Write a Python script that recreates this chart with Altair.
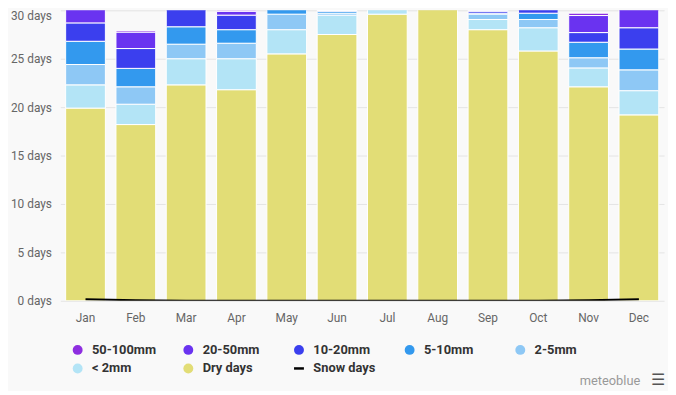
import altair as alt
import pandas as pd

months = ["Jan", "Feb", "Mar", "Apr", "May", "Jun", "Jul", "Aug", "Sep", "Oct", "Nov", "Dec"]

dry_days = [19.9, 18.2, 22.3, 21.8, 25.5, 27.5, 29.6, 30.3, 28.0, 25.8, 22.1, 19.2]
lt_2mm = [2.4, 2.1, 2.7, 3.2, 2.5, 2.0, 1.0, 0.6, 1.05, 2.4, 1.95, 2.5]
mm_2_5 = [2.1, 1.8, 1.5, 1.6, 1.6, 0.2, 0.3, 0.1, 0.55, 0.85, 1.05, 2.15]
mm_5_10 = [2.4, 1.9, 1.8, 1.4, 0.6, 0.2, 0.1, 0.0, 0.1, 0.65, 1.6, 2.15]
mm_10_20 = [1.9, 2.05, 2.0, 1.5, 0.4, 0.1, 0.0, 0.0, 0.2, 0.5, 1.0, 2.2]
mm_20_50 = [2.0, 1.7, 0.6, 0.4, 0.2, 0.0, 0.0, 0.0, 0.1, 0.4, 1.76, 2.3]
mm_50_100 = [0.3, 0.15, 0.1, 0.1, 0.1, 0.0, 0.0, 0.0, 0.0, 0.1, 0.24, 0.5]
snow_days = [0.15, 0.05, 0.0, 0.0, 0.0, 0.0, 0.0, 0.0, 0.0, 0.0, 0.05, 0.15]

categories = ["50-100mm", "20-50mm", "10-20mm", "5-10mm", "2-5mm", "< 2mm", "Dry days", "Snow days"]
colors = ["#8e2ee0", "#6a33f0", "#3b3fee", "#3399ee", "#8ec8f5", "#b3e4f6", "#e2dd76", "#000000"]

series = [
    ("Dry days", dry_days),
    ("< 2mm", lt_2mm),
    ("2-5mm", mm_2_5),
    ("5-10mm", mm_5_10),
    ("10-20mm", mm_10_20),
    ("20-50mm", mm_20_50),
    ("50-100mm", mm_50_100),
]

rows = []
for k, (name, vals) in enumerate(series):
    for m, v in zip(months, vals):
        rows.append({"month": m, "cat": name, "days": v, "order": k})
bars_df = pd.DataFrame(rows)
snow_df = pd.DataFrame({"month": months, "snow": snow_days})

FONT = "Roboto"
IS_SNOW = "datum.label == 'Snow days'"

x_enc = alt.X(
    "month:N",
    sort=months,
    title=None,
    scale=alt.Scale(paddingInner=0.21, paddingOuter=0.105),
    axis=alt.Axis(
        labelAngle=0,
        ticks=False,
        tickSize=0,
        domain=False,
        labelPadding=12,
        labelColor="#666666",
        labelFontSize=12,
        labelFont=FONT,
    ),
)

y_scale = alt.Scale(domain=[0, 30])

color_scale = alt.Scale(domain=categories, range=colors)

legend = alt.Legend(
    title=None,
    orient="none",
    legendX=11,
    legendY=337,
    direction="horizontal",
    columns=5,
    gridAlign="all",
    columnPadding=22,
    rowPadding=5,
    symbolType=alt.ExprRef(expr=IS_SNOW + " ? 'stroke' : 'circle'"),
    symbolStrokeColor=alt.ExprRef(expr=IS_SNOW + " ? '#000000' : 'transparent'"),
    symbolStrokeWidth=alt.ExprRef(expr=IS_SNOW + " ? 2.5 : 0"),
    symbolSize=100,
    symbolOpacity=1,
    labelFont=FONT,
    labelFontSize=13,
    labelFontWeight="bold",
    labelColor="#333333",
    labelOffset=8,
    padding=0,
)

bars = alt.Chart(bars_df).mark_bar(clip=True, stroke="white", strokeWidth=1).encode(
    x=x_enc,
    y=alt.Y(
        "days:Q",
        stack="zero",
        scale=y_scale,
        title=None,
        axis=alt.Axis(
            values=[0, 5, 10, 15, 20, 25, 30],
            labelExpr="datum.value + ' days'",
            labelBaseline=alt.ExprRef(expr="datum.value == 30 ? 'top' : 'middle'"),
            ticks=False,
            tickSize=0,
            domain=False,
            labelPadding=9,
            labelColor="#666666",
            labelFontSize=12,
            labelFont=FONT,
            grid=True,
            gridColor="#e4e4e4",
            gridWidth=1,
        ),
    ),
    color=alt.Color("cat:N", scale=color_scale, legend=legend),
    order=alt.Order("order:Q", sort="ascending"),
)

snow = alt.Chart(snow_df).mark_line(color="#000000", strokeWidth=2, clip=True).encode(
    x=alt.X("month:N", sort=months),
    y=alt.Y("snow:Q", scale=y_scale),
    color=alt.datum("Snow days"),
)

credit_df = pd.DataFrame({"t": ["meteoblue"]})
credit = alt.Chart(credit_df).mark_text(
    align="right", baseline="middle", fontSize=13, font=FONT, color="#999999"
).encode(text="t:N", x=alt.value(587), y=alt.value(375))

menu = alt.Chart(pd.DataFrame({"t": ["\u2630"]})).mark_text(
    align="center", baseline="middle", fontSize=16, font="DejaVu Sans", color="#555555"
).encode(text="t:N", x=alt.value(605), y=alt.value(374))

chart = (
    alt.layer(bars, snow, credit, menu)
    .properties(
        width=611,
        height=294,
        autosize=alt.AutoSizeParams(type="none"),
        padding={"left": 53, "top": 0, "right": 4, "bottom": 89},
        background="#f9f9f9",
    )
    .configure_view(stroke=None)
)

chart.save("out.html", embed_options={"renderer": "svg", "actions": False})
